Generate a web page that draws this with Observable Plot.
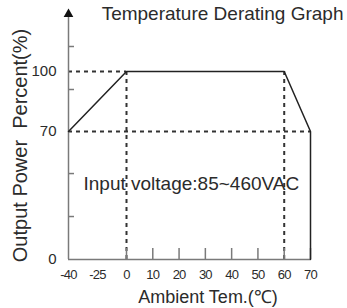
<!DOCTYPE html>
<html><head><meta charset="utf-8">
<script src="https://cdn.jsdelivr.net/npm/d3@7"></script>
<script src="https://cdn.jsdelivr.net/npm/@observablehq/plot@0.6"></script>
<style>
body{margin:0;background:#fff}
svg{display:block}
g[aria-label="x-axis tick label"] text{letter-spacing:-0.8px}
</style>
</head><body><div id="chart"></div>
<script>
const title = "Temperature Derating Graph";
const xLabel = "Ambient Tem.(℃)";
const yLabel = "Output Power  Percent(%)";
const note = "Input voltage:85~460VAC";
const curveTemp = [-40, 0, 60, 70, 70];
const curvePower = [70, 100, 100, 70, 0];
const xTickLabels = [-40, -25, 0, 10, 20, 30, 40, 50, 60, 70];
const xTickMarks = [0, 10, 20, 30, 40, 50, 60, 70];
const yTickLabels = [0, 70, 100];
const yTickMarks = [23.5, 47, 91, 112.5];
const yAxisTop = 128.7;
const guideTemps = [0, 60];
const guidePowers = [100, 70];
const guideEnds = [0, 70];

const curve = curveTemp.map((t, i) => ({t, p: curvePower[i]}));
const hGuides = guidePowers.map((p, i) => ({p, to: guideEnds[i]}));

const axisColor = "#7a7a7a";
const inkColor = "#222";
const textColor = "#2b2b2b";
const dashColor = "#333";

const chart = Plot.plot({
  width: 347,
  height: 308,
  marginTop: 0,
  marginBottom: 49,
  marginLeft: 68,
  marginRight: 0,
  style: {fontFamily: "'Liberation Sans', Arial, sans-serif", color: textColor, background: "#fff"},
  x: {type: "linear", domain: [-40, -25, 0, 70], range: [68, 97, 126, 310], label: null},
  y: {type: "linear", domain: [0, 70, 100], range: [259, 131, 71], label: null},
  marks: [
    Plot.text([note], {frameAnchor: "left", textAnchor: "start", lineAnchor: "middle", dx: 15, dy: 53.5, fontSize: 19, fill: textColor}),
    Plot.ruleY(hGuides, {y: "p", x1: -40, x2: "to", stroke: dashColor, strokeWidth: 2, strokeDasharray: "4,4"}),
    Plot.ruleX(guideTemps, {x: d => d, y1: 0, y2: 100, stroke: dashColor, strokeWidth: 2, strokeDasharray: "4,4"}),
    Plot.ruleY([0], {x1: -40, x2: 70, stroke: axisColor, strokeWidth: 1.5}),
    Plot.ruleX([-40], {y1: 0, y2: yAxisTop, stroke: axisColor, strokeWidth: 1.5}),
    Plot.dot([yAxisTop], {x: () => -40, y: d => d, symbol: "triangle", r: 3.6, fill: "#111", stroke: null}),
    Plot.axisX(xTickMarks, {tickSize: 11, dy: -11, tickFormat: () => "", stroke: axisColor, strokeWidth: 1.5}),
    Plot.axisX(xTickLabels, {tickSize: 0, tickPadding: 10, fontSize: 13, fill: textColor, tickFormat: d => String(d)}),
    Plot.axisY(yTickMarks, {tickSize: 6, dx: 6, tickFormat: () => "", stroke: axisColor, strokeWidth: 1.5}),
    Plot.axisY(yTickLabels, {tickSize: 0, tickPadding: 12, fontSize: 15, fill: textColor, tickFormat: d => String(d)}),
    Plot.line(curve, {x: "t", y: "p", stroke: inkColor, strokeWidth: 1.5}),
    Plot.text([title], {frameAnchor: "top-right", textAnchor: "end", lineAnchor: "top", dx: -4, dy: 6, fontSize: 19, fill: textColor}),
    Plot.text([xLabel], {frameAnchor: "bottom", textAnchor: "middle", lineAnchor: "middle", dy: 38, fontSize: 18, fill: textColor}),
    Plot.text([yLabel], {frameAnchor: "left", textAnchor: "middle", lineAnchor: "middle", rotate: -90, dx: -48, dy: 15.5, fontSize: 20, fill: textColor})
  ]
});
document.getElementById("chart").append(chart);
</script>
</body></html>
